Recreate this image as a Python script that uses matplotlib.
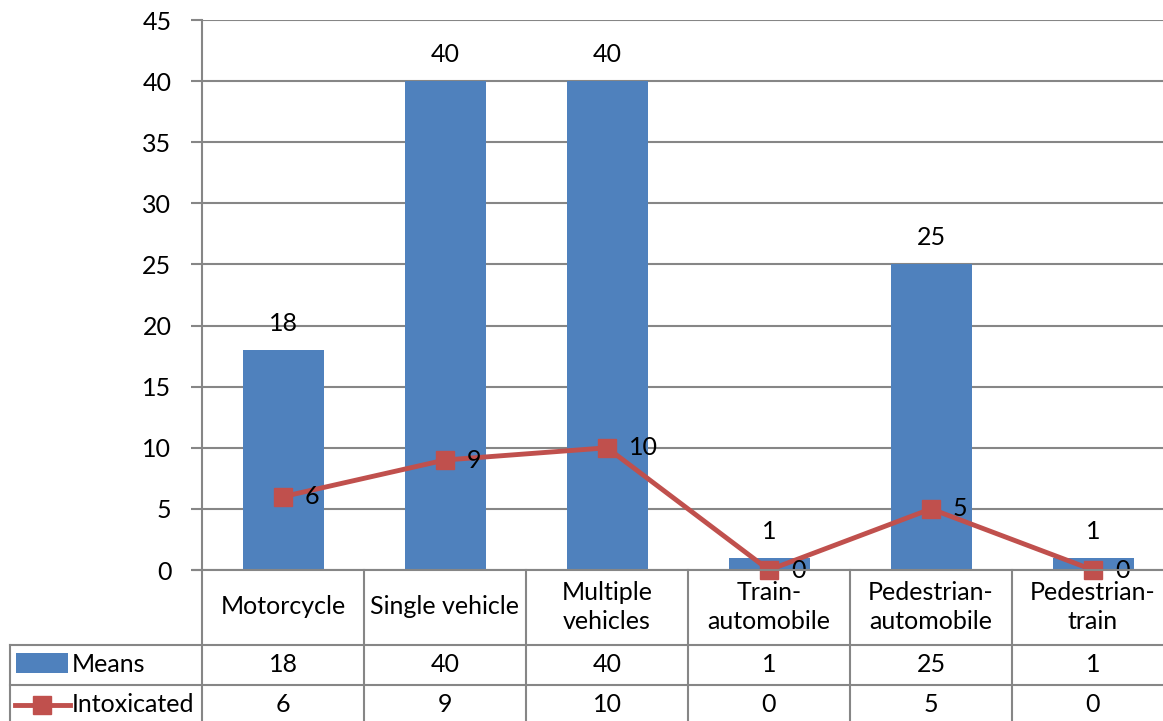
import matplotlib.pyplot as plt
import matplotlib.transforms as mtransforms
from matplotlib.lines import Line2D
from matplotlib.patches import Rectangle

###-----------------data------------------###
categories = ["Motorcycle", "Single vehicle", "Multiple\nvehicles",
              "Train-\nautomobile", "Pedestrian-\nautomobile", "Pedestrian-\ntrain"]
means = [18, 40, 40, 1, 25, 1]
intoxicated = [6, 9, 10, 0, 5, 0]
yticks = [0, 5, 10, 15, 20, 25, 30, 35, 40, 45]

bar_color = "#4F81BD"
line_color = "#C0504D"
grid_color = "#868686"
W, H = 1163, 721
FS = 18

plt.rcParams['font.family'] = ['Lato', 'DejaVu Sans']
plt.rcParams['font.size'] = FS

fig = plt.figure(figsize=(W / 100, H / 100), dpi=100)
ax = fig.add_axes([202 / W, (H - 570) / H, 972 / W, 550 / H])

x = list(range(len(categories)))
ax.bar(x, means, width=0.5, color=bar_color, zorder=2)
ax.plot(x, intoxicated, color=line_color, lw=3.5, marker='s', ms=13,
        clip_on=False, zorder=3)

for xi, v in zip(x, means):
    ax.annotate(str(v), (xi, v), xytext=(0, 15), textcoords='offset pixels',
                ha='center', va='bottom', color='black')
for xi, v in zip(x, intoxicated):
    ax.annotate(str(v), (xi, v), xytext=(22, 0), textcoords='offset pixels',
                ha='left', va='center', color='black', zorder=4)

ax.set_xlim(-0.5, len(categories) - 0.5)
ax.set_ylim(0, 45)
ax.set_yticks(yticks)
ax.set_xticks([])
ax.grid(axis='y', color=grid_color, lw=1.5, zorder=0)
ax.tick_params(axis='y', length=8, width=1.5, color=grid_color, pad=14, labelsize=FS)
for s in ['top', 'right', 'bottom']:
    ax.spines[s].set_visible(False)
ax.spines['left'].set_color(grid_color)
ax.spines['left'].set_linewidth(1.5)

###-----------------data table------------------###
# figure pixels, measured from the top edge
fig_px = mtransforms.Affine2D().scale(1, -1).translate(0, H)

def hline(y, x0, x1):
    fig.add_artist(Line2D([x0, x1], [y, y], transform=fig_px, color=grid_color, lw=1.5))

def vline(xp, y0, y1):
    fig.add_artist(Line2D([xp, xp], [y0, y1], transform=fig_px, color=grid_color, lw=1.5))

col_px = [ax.transData.transform((b - 0.5, 0))[0] for b in range(len(categories) + 1)]
hline(570, 193, W)
hline(645, 10, W)
hline(685, 10, W)
vline(10, 645, H)
for cx in col_px[:-1]:
    vline(cx, 570, H)

for xi, cat, m, v in zip(x, categories, means, intoxicated):
    cx = ax.transData.transform((xi, 0))[0]
    fig.text(cx / W, 1 - 607 / H, cat, ha='center', va='center',
             linespacing=1.3, fontsize=FS)
    fig.text(cx / W, 1 - 665 / H, str(m), ha='center', va='center', fontsize=FS)
    fig.text(cx / W, 1 - 704 / H, str(v), ha='center', va='center', fontsize=FS)

# legend keys inside the table
fig.add_artist(Rectangle((16, H - 673), 52, 20, transform=mtransforms.IdentityTransform(),
                         facecolor=bar_color, edgecolor='none'))
fig.add_artist(Line2D([15, 70], [705, 705], transform=fig_px, color=line_color, lw=3.5))
fig.add_artist(Line2D([42], [705], transform=fig_px, color=line_color,
                      marker='s', ms=13, lw=0))
fig.text(72 / W, 1 - 665 / H, "Means", ha='left', va='center', fontsize=FS)
fig.text(72 / W, 1 - 704 / H, "Intoxicated", ha='left', va='center', fontsize=FS)

fig.savefig("out.png", dpi=100)
